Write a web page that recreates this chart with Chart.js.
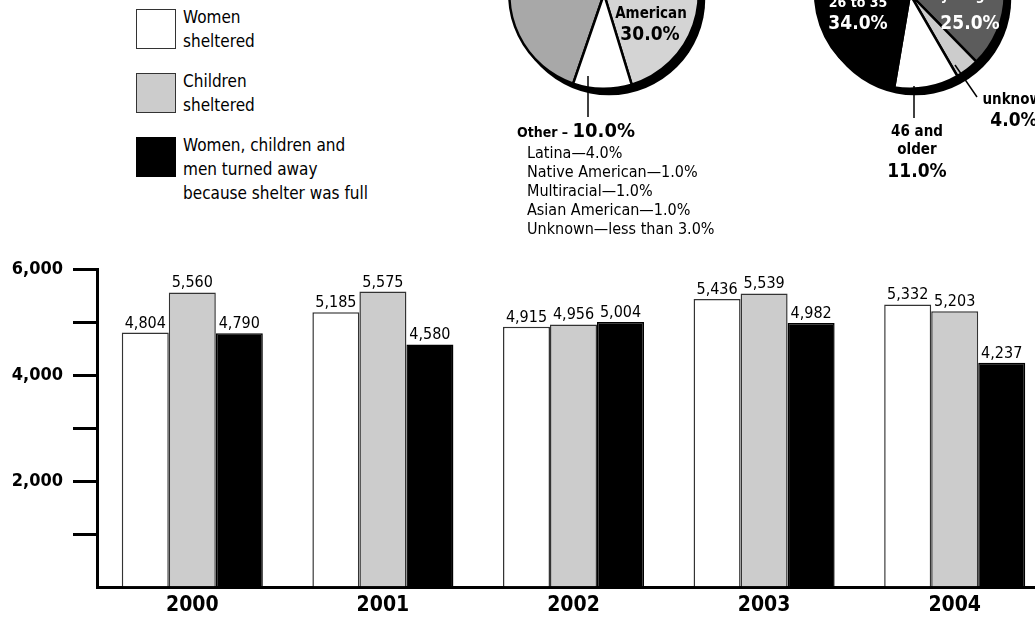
<!DOCTYPE html>
<html>
<head>
<meta charset="utf-8">
<script src="https://cdn.jsdelivr.net/npm/chart.js@4.4.1/dist/chart.umd.min.js"></script>
<style>
  body { margin: 0; background: #fff; overflow: hidden; width: 1035px; height: 617px; position: relative; }
  canvas { position: absolute; }
  #legend { position: absolute; left: 0; top: 0; font: 17px "Liberation Sans Narrow", "Arial Narrow", "DejaVu Sans Condensed", sans-serif; color: #000; }
  .item { position: absolute; left: 136px; }
  .box { position: absolute; left: 0; top: 0; width: 40px; height: 40px; box-sizing: border-box; }
  .txt { position: absolute; left: 47px; top: -4px; line-height: 24px; white-space: pre; }
</style>
</head>
<body>
<div id="legend"></div>
<canvas id="bar" width="1055" height="383" style="left:0;top:240px"></canvas>
<canvas id="race" width="280" height="360" style="left:470px;top:-112px"></canvas>
<canvas id="age" width="260" height="340" style="left:790px;top:-112px"></canvas>
<script>
// bar chart data
const years = ['2000', '2001', '2002', '2003', '2004'];
const womenSheltered = [4804, 5185, 4915, 5436, 5332];
const childrenSheltered = [5560, 5575, 4956, 5539, 5203];
const turnedAway = [4790, 4580, 5004, 4982, 4237];
const seriesNames = ['Women\nsheltered', 'Children\nsheltered', 'Women, children and\nmen turned away\nbecause shelter was full'];
const yTickLabels = [2000, 4000, 6000];

// pies (top halves are cut off in the picture)
const raceLabels = ['White', 'African\nAmerican', 'Other'];
const racePct = [60, 30, 10];
const otherDetail = ['Latina\u20144.0%', 'Native American\u20141.0%', 'Multiracial\u20141.0%', 'Asian American\u20141.0%', 'Unknown\u2014less than 3.0%'];
const ageLabels = ['36 to 45', '25 and\nyounger', 'unknown', '46 and\nolder', '26 to 35'];
const agePct = [26, 25, 4, 11, 34];

const BOLD = '"DejaVu Sans Condensed", "DejaVu Sans", sans-serif';
const NARROW = '"Liberation Sans Narrow", "Arial Narrow", "DejaVu Sans Condensed", sans-serif';

const barColors = ['#ffffff', '#cccccc', '#000000'];
const barEdges = ['#333333', '#333333', '#000000'];

// legend
const legend = document.getElementById('legend');
const legendTops = [9, 73, 137];
seriesNames.forEach((name, i) => {
  const item = document.createElement('div');
  item.className = 'item';
  item.style.top = legendTops[i] + 'px';
  const box = document.createElement('div');
  box.className = 'box';
  box.style.background = barColors[i];
  box.style.border = '1.5px solid ' + barEdges[i];
  const txt = document.createElement('div');
  txt.className = 'txt';
  txt.textContent = name;
  item.appendChild(box);
  item.appendChild(txt);
  legend.appendChild(item);
});

const fmt = v => v.toLocaleString('en-US');
const pct = v => v.toFixed(1) + '%';

const barLabels = {
  id: 'barLabels',
  afterDatasetsDraw(chart) {
    const c = chart.ctx;
    c.save();
    c.font = '16px ' + NARROW;
    c.fillStyle = '#000';
    c.textAlign = 'center';
    c.textBaseline = 'alphabetic';
    chart.data.datasets.forEach((ds, i) => {
      chart.getDatasetMeta(i).data.forEach((bar, j) => {
        c.fillText(fmt(ds.data[j]), bar.x, bar.y - 5);
      });
    });
    c.restore();
  }
};

new Chart(document.getElementById('bar'), {
  type: 'bar',
  data: {
    labels: years,
    datasets: [womenSheltered, childrenSheltered, turnedAway].map((d, i) => ({
      label: seriesNames[i],
      data: d,
      backgroundColor: barColors[i],
      borderColor: barEdges[i],
      borderWidth: 1.5,
      borderSkipped: 'bottom'
    }))
  },
  options: {
    responsive: false,
    animation: false,
    datasets: { bar: { barPercentage: 1, categoryPercentage: 0.74 } },
    layout: { padding: { top: 29, right: 5 } },
    plugins: { legend: { display: false }, tooltip: { enabled: false } },
    scales: {
      x: {
        grid: { display: false, drawTicks: false },
        border: { display: true, color: '#000', width: 3 },
        ticks: { color: '#000', padding: 5, font: { family: BOLD, weight: 'bold', size: 21 } }
      },
      y: {
        min: 0,
        max: 6000,
        afterFit(s) { s.width = 97; },
        ticks: {
          stepSize: 1000,
          color: '#000',
          padding: 10,
          font: { family: BOLD, weight: 'bold', size: 18 },
          callback: v => yTickLabels.includes(v) ? fmt(v) : ''
        },
        grid: {
          drawOnChartArea: false,
          tickLength: 24,
          lineWidth: 3,
          color: c => (c.tick && c.tick.value === 0) ? 'rgba(0,0,0,0)' : '#000'
        },
        border: { display: true, color: '#000', width: 3 }
      }
    }
  },
  plugins: [barLabels]
});

// pies
const pieShadow = {
  id: 'pieShadow',
  beforeDatasetsDraw(chart) {
    const arc = chart.getDatasetMeta(0).data[0];
    const c = chart.ctx;
    c.save();
    c.fillStyle = '#000';
    c.beginPath();
    c.arc(arc.x + 5, arc.y + 5, arc.outerRadius + 1.5, 0, Math.PI * 2);
    c.fill();
    c.restore();
  }
};

const pieNotes = {
  id: 'pieNotes',
  afterDatasetsDraw(chart, args, opts) {
    const arc = chart.getDatasetMeta(0).data[0];
    const cx = arc.x, cy = arc.y;
    const c = chart.ctx;
    c.save();
    c.strokeStyle = '#000';
    c.lineWidth = 1.5;
    (opts.leaders || []).forEach(l => {
      c.beginPath();
      c.moveTo(cx + l[0], cy + l[1]);
      c.lineTo(cx + l[2], cy + l[3]);
      c.stroke();
    });
    (opts.notes || []).forEach(n => {
      c.fillStyle = n.color || '#000';
      c.textBaseline = n.parts ? 'alphabetic' : 'middle';
      if (n.parts) {
        c.textAlign = 'left';
        let x = cx + n.dx;
        n.parts.forEach(p => {
          c.font = 'bold ' + p.size + 'px ' + BOLD;
          c.fillText(p.text, x, cy + n.dy);
          x += c.measureText(p.text).width;
        });
      } else {
        c.textAlign = n.align || 'center';
        c.font = (n.regular ? '' : 'bold ') + n.size + 'px ' + (n.regular ? NARROW : BOLD);
        c.fillText(n.text, cx + n.dx, cy + n.dy);
      }
    });
    c.restore();
  }
};

function nameLines(label, dx, dy, size, color) {
  return label.split('\n').map((t, i) => ({ text: t, dx: dx, dy: dy + 18 * i, size: size, color: color }));
}

function pie(id, labels, values, colors, rotation, padding, notes, leaders) {
  return new Chart(document.getElementById(id), {
    type: 'pie',
    data: {
      labels: labels,
      datasets: [{ data: values, backgroundColor: colors, borderColor: '#000', borderWidth: 2.5 }]
    },
    options: {
      responsive: false,
      animation: false,
      rotation: rotation,
      layout: { padding: padding },
      plugins: {
        legend: { display: false },
        tooltip: { enabled: false },
        pieNotes: { notes: notes, leaders: leaders }
      }
    },
    plugins: [pieShadow, pieNotes]
  });
}

pie('race', raceLabels, racePct, ['#a8a8a8', '#d4d4d4', '#ffffff'], 199,
  { left: 38, top: 10, right: 50, bottom: 158 },
  [
    ...nameLines(raceLabels[1], 47, 2, 15, '#000'),
    { text: pct(racePct[1]), dx: 46, dy: 41, size: 19 },
    { parts: [{ text: raceLabels[2] + ' \u2013 ', size: 14 }, { text: pct(racePct[2]), size: 20 }], dx: -87, dy: 143 },
    ...otherDetail.map((t, i) => ({ text: t, dx: -77, dy: 159.5 + 19 * i, size: 16, regular: true, align: 'left' }))
  ],
  [[-16, 82, -16, 123]]
);

pie('age', ageLabels, agePct, ['#a8a8a8', '#5c5c5c', '#cccccc', '#ffffff', '#000000'], 312,
  { left: 24, top: 10, right: 44, bottom: 138 },
  [
    ...nameLines(ageLabels[4], -52, 9, 14, '#fff'),
    { text: pct(agePct[4]), dx: -52, dy: 30, size: 19, color: '#fff' },
    ...nameLines(ageLabels[1], 60, -16, 14, '#fff'),
    { text: pct(agePct[1]), dx: 60, dy: 30, size: 19, color: '#fff' },
    ...nameLines(ageLabels[3], 7, 138, 15, '#000'),
    { text: pct(agePct[3]), dx: 7, dy: 178, size: 19 },
    { text: ageLabels[2], dx: 107, dy: 106, size: 15 },
    { text: pct(agePct[2]), dx: 104, dy: 127, size: 19 }
  ],
  [[4, 92, 4, 124], [45, 71, 67, 103]]
);
</script>
</body>
</html>
